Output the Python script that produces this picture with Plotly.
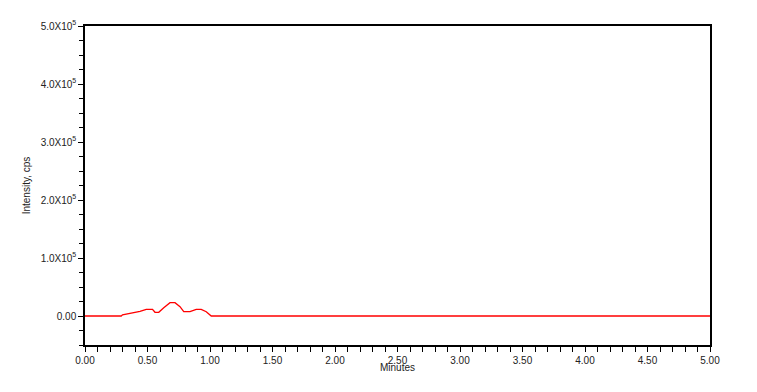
import plotly.graph_objects as go

times = [0.0, 0.29, 0.30, 0.35, 0.39, 0.44, 0.49, 0.54, 0.56, 0.59, 0.63, 0.66, 0.68, 0.72, 0.74, 0.76, 0.79, 0.84, 0.89, 0.93, 0.97, 1.01, 5.0]
intensity = [0, 0, 2000, 4000, 5700, 8000, 11500, 11500, 6400, 6400, 14300, 20000, 23000, 23000, 20000, 16000, 7400, 7400, 11500, 11500, 7400, 0, 0]

y_tickvals = [0, 100000, 200000, 300000, 400000, 500000]
y_ticktext = ["0.00", "1.0X10<sup>5</sup>", "2.0X10<sup>5</sup>", "3.0X10<sup>5</sup>", "4.0X10<sup>5</sup>", "5.0X10<sup>5</sup>"]
x_tickvals = [0, 0.5, 1.0, 1.5, 2.0, 2.5, 3.0, 3.5, 4.0, 4.5, 5.0]
x_ticktext = ["0.00", "0.50", "1.00", "1.50", "2.00", "2.50", "3.00", "3.50", "4.00", "4.50", "5.00"]

fig = go.Figure()
fig.add_trace(go.Scatter(x=times, y=intensity, mode="lines",
                         line=dict(color="#ff0000", width=1.3), showlegend=False))

font = dict(family="Liberation Sans, Arial, sans-serif", size=10, color="#222222")
fig.update_layout(
    width=757, height=392,
    margin=dict(l=85, r=47, t=26, b=47),
    paper_bgcolor="white", plot_bgcolor="white",
    font=font,
    xaxis=dict(range=[0, 5], tickvals=x_tickvals, ticktext=x_ticktext,
               showgrid=False, zeroline=False, showline=True, linecolor="black",
               linewidth=1.5, mirror=True, ticks="outside", ticklen=5,
               tickcolor="black", tickwidth=1, ticklabelstandoff=0,
               minor=dict(dtick=0.1, ticks="outside", ticklen=5, tickcolor="black", tickwidth=1)),
    yaxis=dict(range=[-50000, 500000], tickvals=y_tickvals, ticktext=y_ticktext,
               showgrid=False, zeroline=False, showline=True, linecolor="black",
               linewidth=1.5, mirror=True, ticks="outside", ticklen=5,
               tickcolor="black", tickwidth=1,
               minor=dict(dtick=25000, ticks="outside", ticklen=4, tickcolor="black", tickwidth=1),
               title=dict(text="Intensity, cps", standoff=8, font=font)),
    annotations=[dict(text="Minutes", xref="paper", yref="paper", x=0.5, y=-0.069,
                      xanchor="center", yanchor="middle", showarrow=False, font=font)],
)
fig.write_html("out.html")
